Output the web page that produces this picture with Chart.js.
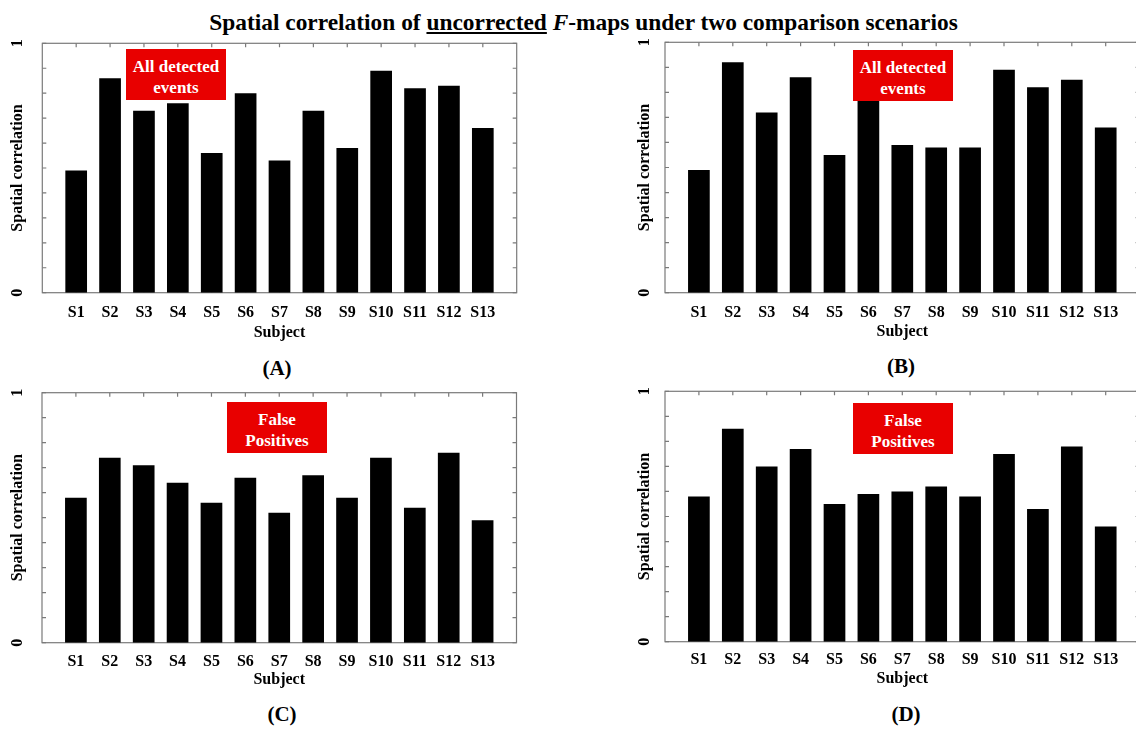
<!DOCTYPE html>
<html>
<head>
<meta charset="utf-8">
<script src="https://cdn.jsdelivr.net/npm/chart.js@4.4.1/dist/chart.umd.min.js"></script>
<style>
  html, body { margin: 0; padding: 0; background: #fff; overflow: hidden; }
  body { width: 1136px; height: 731px; position: relative; font-family: 'Liberation Serif', 'Times New Roman', serif; }
  .panel { position: absolute; }
  .mainTitle { position: absolute; left: 0; width: 1167px; top: 11px; text-align: center; font-size: 23.4px; font-weight: bold; line-height: 23px; white-space: nowrap; }
  .mainTitle u { text-decoration-thickness: 2px; text-underline-offset: 2px; }
  .caption { position: absolute; width: 80px; margin-left: -40px; text-align: center; font-size: 21px; font-weight: bold; line-height: 21px; }
  .tag { position: absolute; width: 100px; height: 51px; background: #e80000; color: #fff; font-size: 17px; font-weight: bold; line-height: 20.5px; text-align: center; padding-top: 8px; box-sizing: border-box; }
</style>
</head>
<body>

<div class="mainTitle">Spatial correlation of <u>uncorrected</u> <i>F</i>-maps under two comparison scenarios</div>

<div class="panel" style="left:0px;top:30px;width:530px;height:320px"><canvas id="chartA"></canvas></div>
<div class="panel" style="left:627px;top:30px;width:526px;height:320px"><canvas id="chartB"></canvas></div>
<div class="panel" style="left:0px;top:380px;width:530px;height:320px"><canvas id="chartC"></canvas></div>
<div class="panel" style="left:627px;top:380px;width:526px;height:320px"><canvas id="chartD"></canvas></div>

<div class="tag" style="left:126px;top:49px">All detected<br>events</div>
<div class="tag" style="left:853px;top:50px">All detected<br>events</div>
<div class="tag" style="left:227px;top:402px">False<br>Positives</div>
<div class="tag" style="left:853px;top:403px">False<br>Positives</div>

<div class="caption" style="left:277px;top:358px">(A)</div>
<div class="caption" style="left:901px;top:356px">(B)</div>
<div class="caption" style="left:282px;top:704px">(C)</div>
<div class="caption" style="left:906px;top:704px">(D)</div>

<script>
// data
const subjects = ['S1', 'S2', 'S3', 'S4', 'S5', 'S6', 'S7', 'S8', 'S9', 'S10', 'S11', 'S12', 'S13'];
const allEventsA = [0.49, 0.86, 0.73, 0.76, 0.56, 0.80, 0.53, 0.73, 0.58, 0.89, 0.82, 0.83, 0.66];
const allEventsB = [0.49, 0.92, 0.72, 0.86, 0.55, 0.77, 0.59, 0.58, 0.58, 0.89, 0.82, 0.85, 0.66];
const falsePosC = [0.58, 0.74, 0.71, 0.64, 0.56, 0.66, 0.52, 0.67, 0.58, 0.74, 0.54, 0.76, 0.49];
const falsePosD = [0.58, 0.85, 0.70, 0.77, 0.55, 0.59, 0.60, 0.62, 0.58, 0.75, 0.53, 0.78, 0.46];
const yTickValues = [0, 1];
const yTickLabels = ['0', '1'];

const serif = "'Liberation Serif', 'Times New Roman', serif";
const frameColor = '#7a7a7a';

// frame with inward tick marks + rotated y tick labels
const frameBox = {
    id: 'frameBox',
    beforeDatasetsDraw(chart) {
        const {ctx, chartArea: a, scales: {x, y}} = chart;
        ctx.save();
        ctx.strokeStyle = frameColor;
        ctx.lineWidth = 1.2;
        ctx.beginPath();
        y.ticks.forEach(t => {
            const py = y.getPixelForValue(t.value);
            ctx.moveTo(a.left, py); ctx.lineTo(a.left + 4, py);
            ctx.moveTo(a.right, py); ctx.lineTo(a.right - 4, py);
        });
        x.ticks.forEach(t => {
            if (t.value < 1 || t.value > subjects.length) return;
            const px = x.getPixelForValue(t.value);
            ctx.moveTo(px, a.top); ctx.lineTo(px, a.top + 4);
            ctx.moveTo(px, a.bottom); ctx.lineTo(px, a.bottom - 4);
        });
        ctx.stroke();
        ctx.strokeRect(a.left, a.top, a.right - a.left, a.bottom - a.top);
        ctx.restore();
    },
    afterDraw(chart) {
        const {ctx, scales: {y}} = chart;
        ctx.save();
        ctx.fillStyle = '#000';
        ctx.font = 'bold 16px ' + serif;
        ctx.textAlign = 'center';
        ctx.textBaseline = 'middle';
        yTickValues.forEach((v, i) => {
            ctx.save();
            ctx.translate(y.left + 18, y.getPixelForValue(v));
            ctx.rotate(-Math.PI / 2);
            ctx.fillText(yTickLabels[i], 0, 0);
            ctx.restore();
        });
        ctx.restore();
    }
};

function makePanel(canvasId, values, g) {
    const ctx = document.getElementById(canvasId);
    const yWidth = g.plotLeft - g.left;
    const xHeight = g.top + g.height - g.plotBottom;

    return new Chart(ctx, {
        type: 'bar',
        data: {
            datasets: [{
                data: values.map((v, i) => ({x: i + 1, y: v})),
                backgroundColor: '#000',
                borderWidth: 0,
                categoryPercentage: 1,
                barPercentage: 0.64
            }]
        },
        options: {
            responsive: true,
            maintainAspectRatio: false,
            animation: false,
            layout: {
                padding: {
                    top: g.plotTop - g.top,
                    right: g.left + g.width - g.plotRight,
                    left: 0,
                    bottom: 0
                }
            },
            plugins: {
                legend: { display: false },
                tooltip: { enabled: false }
            },
            scales: {
                x: {
                    type: 'linear',
                    min: 0,
                    max: subjects.length + 1,
                    offset: false,
                    grid: { display: false, drawTicks: false, offset: false },
                    border: { display: false },
                    ticks: {
                        stepSize: 1,
                        maxTicksLimit: 30,
                        autoSkip: false,
                        maxRotation: 0,
                        padding: g.labelY - g.plotBottom - 9.6,
                        color: '#000',
                        font: { family: serif, size: 16, weight: 'bold' },
                        callback: function (value) {
                            const i = Math.round(value);
                            return (i >= 1 && i <= subjects.length) ? subjects[i - 1] : '';
                        }
                    },
                    title: {
                        display: true,
                        text: 'Subject',
                        color: '#000',
                        font: { family: serif, size: 16, weight: 'bold' },
                        padding: { top: 0, bottom: g.top + g.height - g.subjectY - 9.6 }
                    },
                    afterFit: function (scale) { scale.height = xHeight; }
                },
                y: {
                    min: 0,
                    max: 1,
                    grid: { display: false, drawTicks: false },
                    border: { display: false },
                    ticks: { display: false, stepSize: 0.1 },
                    title: {
                        display: true,
                        text: 'Spatial correlation',
                        color: '#000',
                        font: { family: serif, size: 16, weight: 'bold' },
                        padding: { top: 8.4, bottom: 0 }
                    },
                    afterFit: function (scale) { scale.width = yWidth; }
                }
            }
        },
        plugins: [frameBox]
    });
}

makePanel('chartA', allEventsA, { left: 0, top: 30, width: 530, height: 320, plotLeft: 42.3, plotTop: 43.3, plotRight: 516.7, plotBottom: 292.7, labelY: 313, subjectY: 333 });
makePanel('chartB', allEventsB, { left: 627, top: 30, width: 526, height: 320, plotLeft: 665, plotTop: 42.3, plotRight: 1139.6, plotBottom: 292.7, labelY: 312.7, subjectY: 331.7 });
makePanel('chartC', falsePosC, { left: 0, top: 380, width: 530, height: 320, plotLeft: 42, plotTop: 392.7, plotRight: 516.5, plotBottom: 642.7, labelY: 661.7, subjectY: 680 });
makePanel('chartD', falsePosD, { left: 627, top: 380, width: 526, height: 320, plotLeft: 665, plotTop: 391.3, plotRight: 1139.6, plotBottom: 641.7, labelY: 660, subjectY: 679 });
</script>
</body>
</html>
